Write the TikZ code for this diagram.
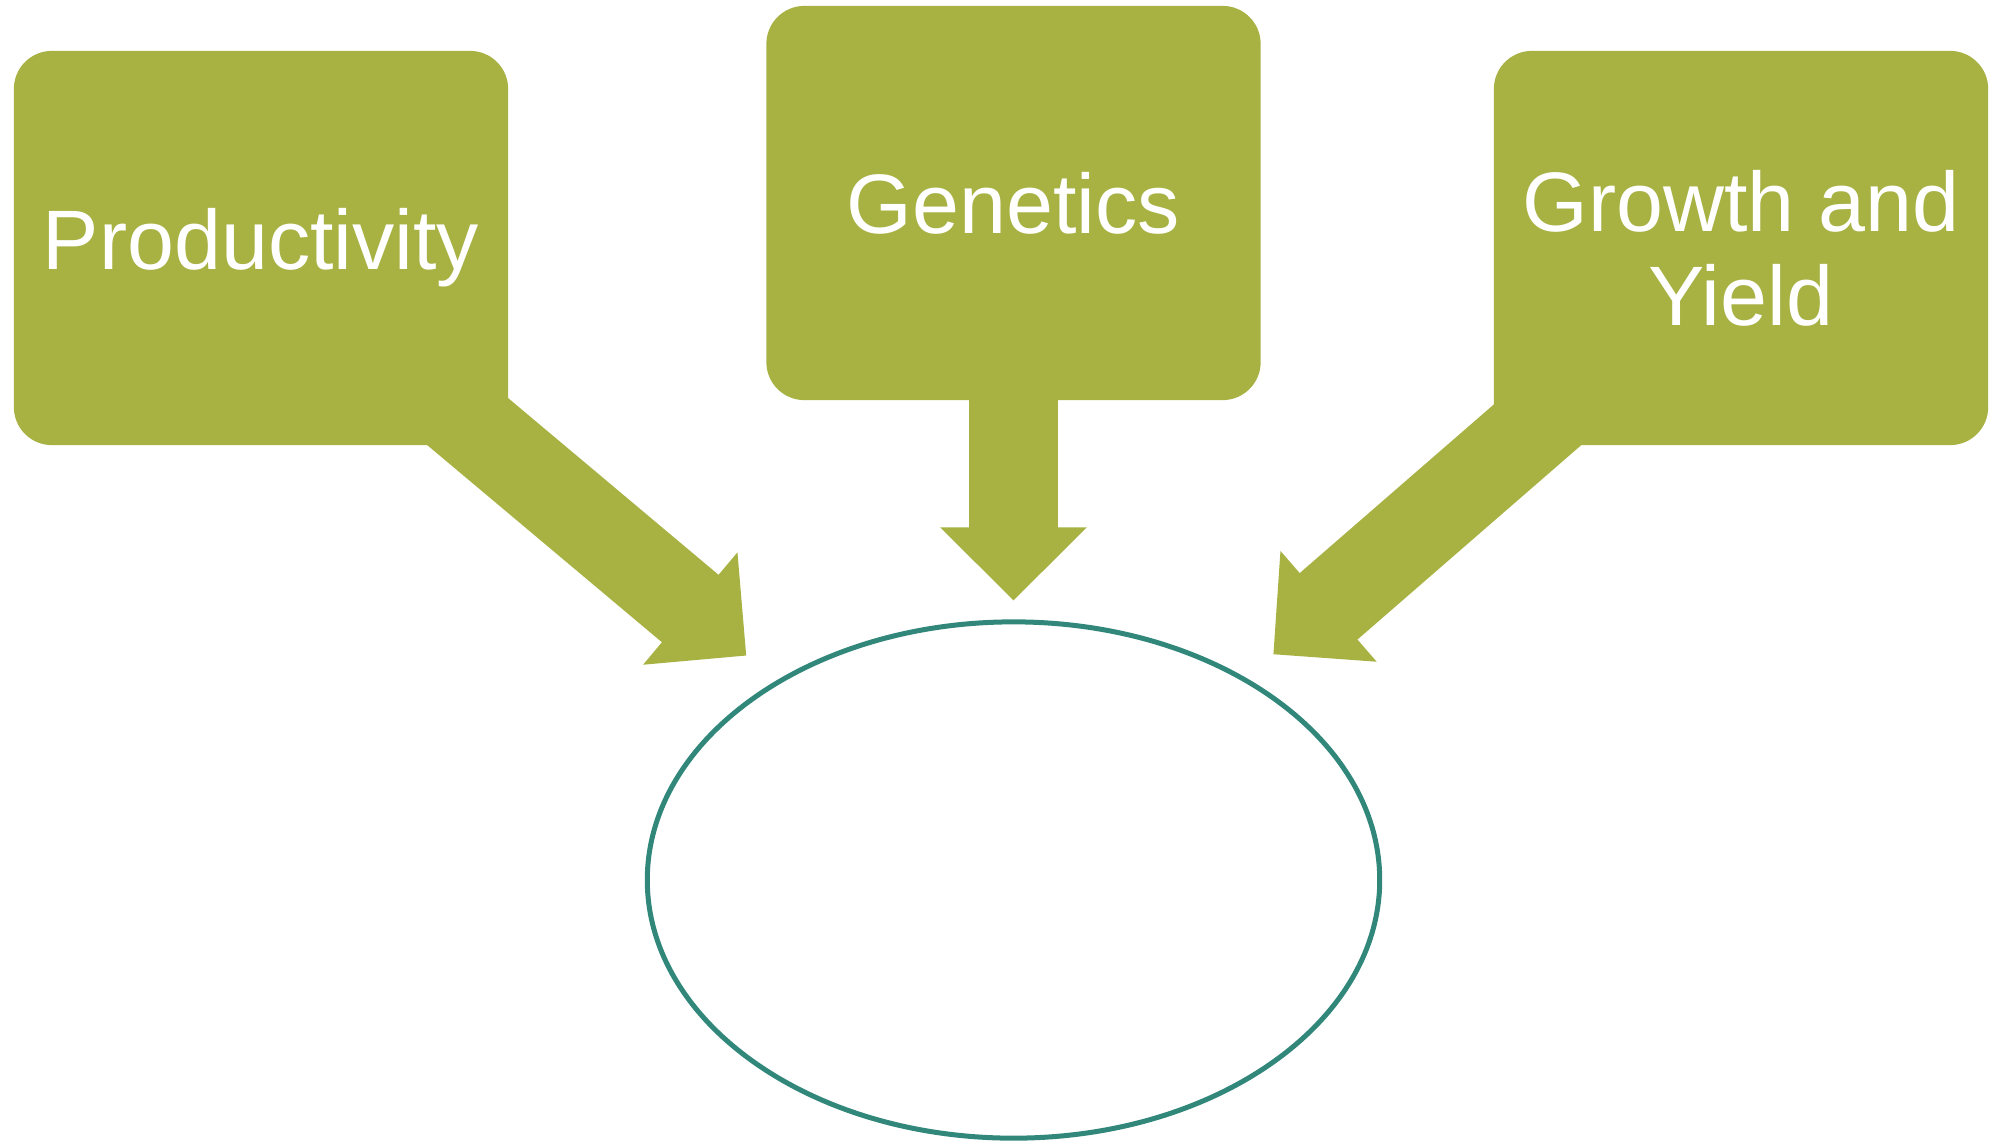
\documentclass[tikz,border=0pt]{standalone}
\usepackage{fontspec}
\setmainfont{Liberation Sans}
\usetikzlibrary{arrows.meta}
\usetikzlibrary{backgrounds}
\usetikzlibrary{shapes.geometric}

\definecolor{leafgreen}{RGB}{167,178,67}
\definecolor{tealline}{RGB}{49,135,122}

\begin{document}
\begin{tikzpicture}
  [
    x=0.01cm, y=-0.01cm,
    topic/.style={
      rectangle, rounded corners=0.38cm,
      fill=leafgreen, text=white,
      minimum width=4.94cm, minimum height=3.94cm,
      inner sep=0pt, align=center,
      font=\fontsize{24}{26.8}\selectfont
    },
    bigarrow/.style={
      draw=leafgreen, line width=0.88cm,
      -{Triangle[width=1.46cm,length=0.73cm,line width=1pt]}
    },
  ]
    \useasboundingbox (0,0) rectangle (2001,1142);
    % the three topic boxes
    \node [topic] (prod) at (261,248) {Productivity};
    \node [topic] (gen) at (1013.5,203) {Genetics};
    \node [topic] (grow) at (1741,248) {Growth and\\Yield};
    % the empty goal ellipse
    \node [ellipse, draw=tealline, line width=0.05cm, minimum width=7.32cm, minimum height=5.16cm] (goal) at (1013.5,880) {};
    % fat arrows into the ellipse
    \begin{scope}[on background layer]
      \draw [bigarrow, shorten >=0.39cm] (prod.center) -- (goal);
      \draw [bigarrow, shorten >=0.19cm] (gen.center) -- (goal);
      \draw [bigarrow, shorten >=0.36cm] (grow.center) -- (goal);
    \end{scope}
\end{tikzpicture}
\end{document}
